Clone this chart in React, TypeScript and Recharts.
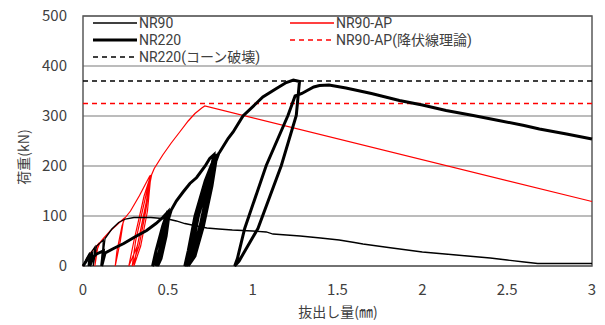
import React from "react";
import {
  LineChart,
  Line,
  XAxis,
  YAxis,
  CartesianGrid,
  ReferenceLine,
  ReferenceArea,
} from "recharts";

// 抜出し量(mm), 荷重(kN) pairs
const nr90: [number, number][] = [
  [0, 0], [0.02, 15], [0.04, 27], [0.03, 0], [0.05, 28], [0.07, 38], [0.06, 0],
  [0.08, 40], [0.12, 52], [0.11, 0], [0.13, 55], [0.17, 74], [0.21, 87],
  [0.25, 94], [0.3, 97], [0.4, 97], [0.5, 94], [0.55, 90], [0.6, 85],
  [0.67, 80], [0.73, 76], [0.8, 74], [0.88, 72], [1.0, 70], [1.08, 68],
  [1.12, 64], [1.2, 62], [1.28, 60], [1.4, 56], [1.51, 52], [1.6, 47],
  [1.65, 44], [1.8, 37], [2.0, 28], [2.2, 22], [2.4, 16], [2.5, 12],
  [2.6, 8], [2.68, 5], [2.8, 5], [3.0, 5],
];

const nr220: [number, number][] = [
  [0, 0], [0.03, 15], [0.05, 22], [0.04, 0], [0.06, 18], [0.08, 24],
  [0.12, 30], [0.11, 0], [0.13, 26], [0.18, 35], [0.24, 45], [0.3, 57],
  [0.375, 71], [0.43, 85], [0.47, 97], [0.5, 108],
  [0.48, 60], [0.44, 20], [0.41, 0], [0.43, 30], [0.47, 80], [0.5, 110],
  [0.48, 60], [0.45, 20], [0.43, 0], [0.45, 30], [0.48, 80], [0.51, 110],
  [0.49, 60], [0.46, 15], [0.44, 0], [0.47, 40], [0.5, 90], [0.52, 112],
  [0.55, 130], [0.59, 148], [0.63, 165], [0.67, 177], [0.72, 200],
  [0.747, 215], [0.77, 222],
  [0.74, 160], [0.69, 80], [0.64, 20], [0.6, 0], [0.62, 30], [0.66, 100],
  [0.72, 170], [0.78, 222], [0.75, 160], [0.7, 80], [0.65, 20], [0.61, 0],
  [0.63, 30], [0.67, 100], [0.73, 170], [0.79, 224], [0.76, 160], [0.71, 80],
  [0.66, 20], [0.62, 0], [0.64, 30], [0.68, 100], [0.74, 170], [0.8, 225],
  [0.806, 228], [0.855, 255], [0.885, 268], [0.943, 300], [1.02, 325],
  [1.06, 338], [1.14, 355], [1.198, 367], [1.24, 372], [1.276, 369],
  [1.257, 301], [1.169, 201], [1.031, 75], [0.92, 10], [0.894, 0],
  [0.91, 15], [0.953, 75], [1.08, 201], [1.208, 301], [1.25, 340],
  [1.29, 345], [1.316, 350], [1.36, 358], [1.394, 361], [1.45, 362],
  [1.55, 356], [1.7, 345], [1.865, 331], [2.0, 322], [2.14, 311],
  [2.3, 301], [2.45, 291], [2.6, 281], [2.69, 274], [2.85, 264], [3.0, 254],
];

const nr90ap: [number, number][] = [
  [0, 0], [0.04, 25], [0.06, 32], [0.09, 44], [0.07, 0], [0.08, 30],
  [0.1, 47], [0.12, 55], [0.16, 70], [0.196, 81], [0.24, 95],
  [0.22, 50], [0.19, 0], [0.2, 30], [0.23, 80], [0.245, 95],
  [0.28, 110], [0.333, 141], [0.37, 165], [0.395, 181],
  [0.37, 120], [0.32, 40], [0.27, 0], [0.3, 50], [0.36, 140], [0.4, 182],
  [0.37, 110], [0.33, 40], [0.29, 0], [0.31, 50], [0.37, 140], [0.4, 181],
  [0.38, 110], [0.34, 40], [0.3, 0], [0.32, 40], [0.38, 140], [0.405, 183],
  [0.42, 195], [0.47, 222], [0.52, 246], [0.57, 268], [0.62, 290],
  [0.66, 305], [0.7, 316], [0.718, 320], [3.0, 129],
];

const nr220Cone = 370; // NR220(コーン破壊)
const nr90apYield = 325; // NR90-AP(降伏線理論)

const xTicks = [0, 0.5, 1, 1.5, 2, 2.5, 3];
const yTicks = [0, 100, 200, 300, 400, 500];

const toRows = (pts: [number, number][]) => pts.map(([x, y]) => ({ x, y }));

const legendItems = [
  { label: "NR90", color: "#000", width: 1.3, dash: undefined, left: 93, top: 23 },
  { label: "NR220", color: "#000", width: 3, dash: undefined, left: 93, top: 40 },
  { label: "NR220(コーン破壊)", color: "#000", width: 1.5, dash: "5 4", left: 93, top: 57 },
  { label: "NR90-AP", color: "#ff0000", width: 1.3, dash: undefined, left: 290, top: 23 },
  { label: "NR90-AP(降伏線理論)", color: "#ff0000", width: 1.5, dash: "5 4", left: 290, top: 40 },
];

const font = "'Noto Sans CJK JP', 'Noto Sans', sans-serif";
const legendFont = "Roboto, 'Noto Sans CJK JP', sans-serif";
const tickStyle = { fill: "#404040", fontSize: 15, fontFamily: font };

export default function App() {
  return (
    <div style={{ position: "absolute", left: 0, top: 0, width: 605, height: 325, background: "#fff" }}>
      <LineChart
        width={605}
        height={325}
        margin={{ top: 16, right: 13, bottom: 28, left: 23 }}
      >
        <CartesianGrid vertical={false} stroke="#a6a6a6" strokeWidth={1.5} />
        <XAxis
          type="number"
          dataKey="x"
          domain={[0, 3]}
          ticks={xTicks}
          tickLine={false}
          axisLine={false}
          tick={tickStyle}
          tickMargin={12}
          height={31}
        />
        <YAxis
          type="number"
          dataKey="y"
          domain={[0, 500]}
          ticks={yTicks}
          tickLine={false}
          axisLine={false}
          tick={tickStyle}
          tickMargin={10}
          width={60}
        />
        <ReferenceLine y={nr220Cone} stroke="#000" strokeWidth={1.5} strokeDasharray="5 4" />
        <ReferenceLine y={nr90apYield} stroke="#ff0000" strokeWidth={1.5} strokeDasharray="5 4" />
        <Line data={toRows(nr90ap)} dataKey="y" type="linear" stroke="#ff0000" strokeWidth={1.2} dot={false} activeDot={false} isAnimationActive={false} />
        <Line data={toRows(nr90)} dataKey="y" type="linear" stroke="#000" strokeWidth={1.3} dot={false} activeDot={false} isAnimationActive={false} />
        <Line data={toRows(nr220)} dataKey="y" type="linear" stroke="#000" strokeWidth={3} dot={false} activeDot={false} isAnimationActive={false} />
        <ReferenceArea x1={0} x2={3} y1={0} y2={500} fill="none" stroke="#595959" strokeWidth={1.5} />
      </LineChart>

      {legendItems.map((it) => (
        <div
          key={it.label}
          style={{ position: "absolute", left: it.left, top: it.top - 8, height: 16, display: "flex", alignItems: "center" }}
        >
          <svg width={44} height={16} style={{ display: "block" }}>
            <line x1={0} y1={8} x2={44} y2={8} stroke={it.color} strokeWidth={it.width} strokeDasharray={it.dash} />
          </svg>
          <span
            style={{
              display: "block",
              marginLeft: 2,
              fontSize: 14,
              lineHeight: "16px",
              fontFamily: legendFont,
              color: "#404040",
              whiteSpace: "nowrap",
            }}
          >
            {it.label}
          </span>
        </div>
      ))}

      <div
        style={{ position: "absolute", left: 293, top: 301, width: 90, textAlign: "center", fontSize: 14, fontFamily: font, color: "#404040", whiteSpace: "nowrap" }}
      >
        抜出し量(㎜)
      </div>
      <div
        style={{
          position: "absolute",
          left: 23,
          top: 157,
          transform: "translate(-50%, -50%) rotate(-90deg)",
          fontSize: 14,
          fontFamily: font,
          color: "#404040",
          whiteSpace: "nowrap",
        }}
      >
        荷重(kN)
      </div>
    </div>
  );
}
